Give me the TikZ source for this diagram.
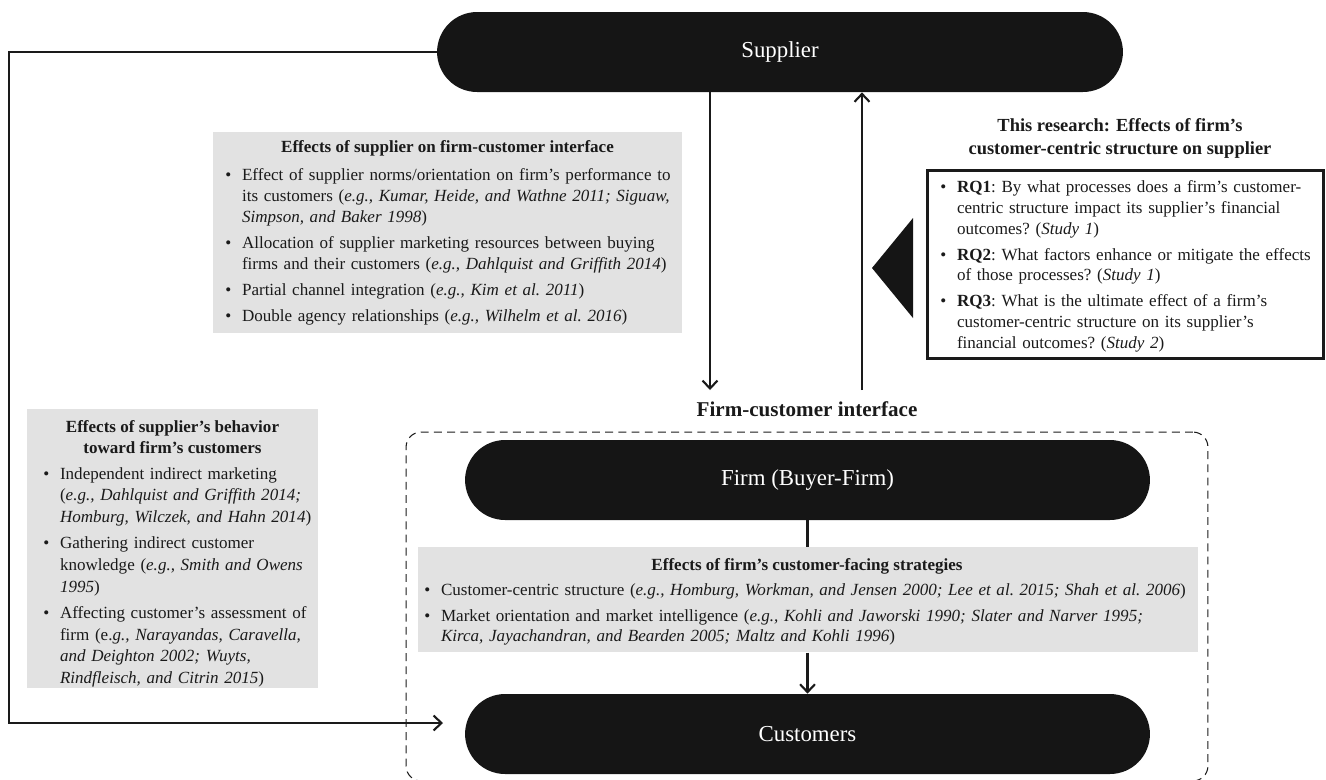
\documentclass[tikz,border=0pt]{standalone}
\usepackage{fontspec}
\setmainfont{Liberation Serif}
\usetikzlibrary{arrows.meta,positioning,calc}

\definecolor{pillblack}{HTML}{151515}
\definecolor{boxgray}{HTML}{E2E2E2}
\definecolor{inkblack}{HTML}{1A1A1A}

\newlength\bulind
\setlength\bulind{9.5pt}
\newcommand{\bul}[1]{\hangindent=\bulind\hangafter=1\noindent\makebox[\bulind][l]{\textbullet}#1\par}
\newcommand{\blockfmt}{\raggedright\frenchspacing\parindent=0pt\parskip=2.8pt\relax}

\tikzset{
  pill/.style={fill=pillblack, rounded corners=0.8cm, minimum height=1.6cm, minimum width=13.7cm,
    text=white, font=\fontsize{13}{15}\selectfont, inner sep=0pt},
  graybox/.style={fill=boxgray, inner sep=0pt, anchor=north west},
  txtblock/.style={anchor=north west, inner sep=0pt, font=\fontsize{9.7}{11.9}\selectfont, text=inkblack},
  headtxt/.style={inner sep=0pt, font=\fontsize{9.7}{11.9}\selectfont\bfseries, align=center, text=inkblack},
  flow/.style={draw=inkblack, line width=1.2pt, -{Straight Barb[length=4.5pt,width=8.5pt]}},
  link/.style={draw=inkblack, line width=1.2pt},
  ifacebox/.style={draw=inkblack, dash pattern=on 4.5pt off 3pt, line width=0.6pt, rounded corners=0.3cm,
    minimum width=16.04cm, minimum height=6.98cm},
  rqframe/.style={draw=inkblack, line width=1.7pt, minimum width=7.92cm, minimum height=3.76cm}
}

\begin{document}
\begin{tikzpicture}[x=0.02cm,y=-0.02cm]
\useasboundingbox (0,0) rectangle (1326,779);
% actors
\node[pill, minimum width=13.72cm] (supplier) at (780,52) {Supplier};
\node[pill] (firm) at (807.5,480) {Firm (Buyer-Firm)};
\node[pill] (customers) at (807.5,734) {Customers};
% interface frame
\node[ifacebox] (iface) at (807,606.5) {};
\node[font=\fontsize{12}{14}\selectfont\bfseries, text=inkblack, inner sep=0pt] (ifacelbl) at (807,409) {Firm-customer interface};

% supplier on interface
\node[graybox, minimum width=9.38cm, minimum height=4.02cm] (suppbox) at (213,132) {};
\node[headtxt] (supphead) at (447.5,148) {Effects of supplier on firm-customer interface};
\node[txtblock, text width=9.2cm] (supptxt) at (225,168.5) {\blockfmt
  \bul{Effect of supplier norms/orientation on firm’s performance to\newline its customers (\textit{e.g., Kumar, Heide, and Wathne 2011; Siguaw,}\newline \textit{Simpson, and Baker 1998})}
  \bul{Allocation of supplier marketing resources between buying\newline firms and their customers (\textit{e.g., Dahlquist and Griffith 2014})}
  \bul{Partial channel integration (\textit{e.g., Kim et al. 2011})}
  \bul{Double agency relationships (\textit{e.g., Wilhelm et al. 2016})}};

% supplier toward customers
\node[graybox, minimum width=5.82cm, minimum height=5.58cm] (behavbox) at (27,409) {};
\node[headtxt] (behavhead) at (172.5,437.5) {Effects of supplier’s behavior\\toward firm’s customers};
\node[txtblock, text width=5.6cm, font=\fontsize{9.7}{12.3}\selectfont] (behavtxt) at (43,467) {\blockfmt
  \bul{Independent indirect marketing\newline (\textit{e.g., Dahlquist and Griffith 2014;}\newline \textit{Homburg, Wilczek, and Hahn 2014})}
  \bul{Gathering indirect customer\newline knowledge (\textit{e.g., Smith and Owens}\newline \textit{1995})}
  \bul{Affecting customer’s assessment of\newline firm (e.\textit{g., Narayandas, Caravella,}\newline \textit{and Deighton 2002; Wuyts,}\newline \textit{Rindfleisch, and Citrin 2015})}};

% firm strategies
\node[graybox, minimum width=15.6cm, minimum height=2.1cm] (stratbox) at (418,547) {};
\node[headtxt] (strathead) at (807,566) {Effects of firm’s customer-facing strategies};
\node[txtblock, text width=16cm] (strattxt) at (424,583) {\blockfmt
  \bul{Customer-centric structure (\textit{e.g., Homburg, Workman, and Jensen 2000; Lee et al. 2015; Shah et al. 2006})}
  \bul{Market orientation and market intelligence (\textit{e.g., Kohli and Jaworski 1990; Slater and Narver 1995;}\newline \textit{Kirca, Jayachandran, and Bearden 2005; Maltz and Kohli 1996})}};

% this research
\node[rqframe] (rqbox) at (1125.5,264.5) {};
\node[headtxt, font=\fontsize{10.5}{13}\selectfont\bfseries] (rqhead) at (1120,138.5) {This research: Effects of firm’s\\customer-centric structure on supplier};
\node[txtblock, text width=7.8cm] (rqtxt) at (940,180) {\blockfmt
  \bul{\textbf{RQ1}: By what processes does a firm’s customer-\newline centric structure impact its supplier’s financial\newline outcomes? (\textit{Study 1})}
  \bul{\textbf{RQ2}: What factors enhance or mitigate the effects\newline of those processes? (\textit{Study 1})}
  \bul{\textbf{RQ3}: What is the ultimate effect of a firm’s\newline customer-centric structure on its supplier’s\newline financial outcomes? (\textit{Study 2})}};
\fill[pillblack] (913,218) -- (872,268) -- (913,318) -- cycle;

% connectors
\coordinate (dnend) at (710,390);
\coordinate (upstart) at (862,390);
\coordinate (loopx) at (9,400);
\coordinate (loopend) at (443,723);
\draw[flow] (supplier.south -| dnend) -- (dnend);
\draw[flow] (upstart) -- (supplier.south -| upstart);
\draw[flow] (supplier.west) -- (supplier.west -| loopx) |- (loopend);
\draw[link] (firm.south) -- (stratbox.north -| firm.south);
\draw[flow] (stratbox.south -| customers.north) -- (customers.north);
\end{tikzpicture}
\end{document}
